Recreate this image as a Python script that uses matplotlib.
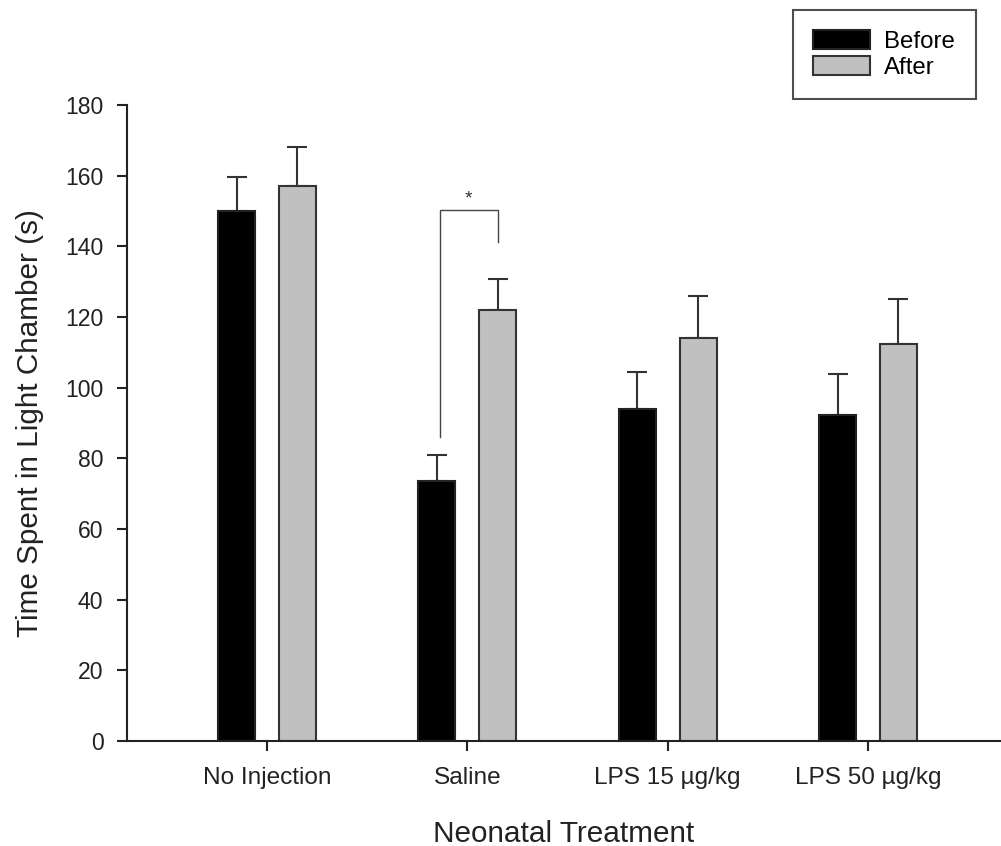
import matplotlib
matplotlib.use('Agg')
import matplotlib.pyplot as plt
import numpy as np

plt.rcParams['font.family'] = ['Liberation Sans', 'DejaVu Sans']

treatments = ['No Injection', 'Saline', 'LPS 15 µg/kg', 'LPS 50 µg/kg']
before_mean = [150.0, 73.6, 94.0, 92.3]
before_err = [9.5, 7.3, 10.5, 11.5]
after_mean = [157.1, 122.0, 114.1, 112.3]
after_err = [11.1, 8.7, 11.9, 12.7]

# significance bracket for Saline (before vs after)
sig_bottom_left = 86.1
sig_bottom_right = 141.1
sig_top = 150.3

W, H = 1001, 846
fig = plt.figure(figsize=(W / 100, H / 100), dpi=100)
ax = fig.add_axes([127 / W, 1 - 741 / H, (1001 - 127) / W, (741 - 105) / H])

x = np.arange(len(treatments))
off = 0.152
bw = 0.185

ax.bar(x - off, before_mean, bw, color='black', edgecolor='#222222', linewidth=1.5, label='Before', zorder=2)
ax.bar(x + off, after_mean, bw, color='#c0c0c0', edgecolor='#333333', linewidth=1.5, label='After', zorder=2)
ax.errorbar(x - off, before_mean, yerr=[np.zeros(4), before_err], fmt='none', ecolor='#333333',
            elinewidth=1.5, capsize=7.2, capthick=1.5, zorder=1)
ax.errorbar(x + off, after_mean, yerr=[np.zeros(4), after_err], fmt='none', ecolor='#333333',
            elinewidth=1.5, capsize=7.2, capthick=1.5, zorder=1)

# bracket
bl, br = 1 - 0.136, 1 + 0.151
ax.plot([bl, bl, br, br], [sig_bottom_left, sig_top, sig_top, sig_bottom_right],
        color='#444444', linewidth=1.0, solid_joinstyle='miter')
ax.text((bl + br) / 2, sig_top + 0.8, '*', ha='center', va='bottom', fontsize=14, color='#333333')

ax.set_xlim(-0.699, 3.664)
ax.set_ylim(0, 180)
ax.set_yticks(np.arange(0, 181, 20))
ax.set_xticks(x)
ax.set_xticklabels(treatments)

for s in ['top', 'right']:
    ax.spines[s].set_visible(False)
for s in ['left', 'bottom']:
    ax.spines[s].set_linewidth(1.5)
    ax.spines[s].set_color('#222222')

ax.tick_params(axis='y', direction='out', length=7, width=1.5, labelsize=16.6, pad=10, colors='#222222')
ax.tick_params(axis='x', direction='out', length=7, width=1.5, labelsize=17.6, pad=12, colors='#222222')

ax.set_ylabel('Time Spent in Light Chamber (s)', fontsize=21.4, color='#222222', labelpad=15)
ax.set_xlabel('Neonatal Treatment', fontsize=21.4, color='#222222', labelpad=22)

leg = fig.legend(loc='upper left', bbox_to_anchor=(793 / W, 1 - 10 / H), fontsize=17.3,
                 handlelength=2.35, handleheight=0.82, handletextpad=0.6, labelspacing=0.13,
                 borderpad=0.85, fancybox=False, frameon=True, borderaxespad=0)
leg.get_frame().set_edgecolor('#222222')
leg.get_frame().set_linewidth(1.5)

fig.savefig('out.png', dpi=100)
